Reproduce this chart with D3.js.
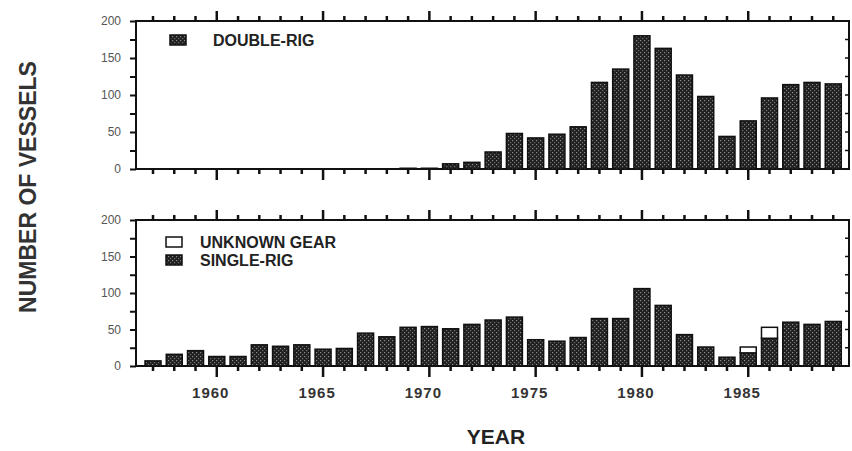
<!DOCTYPE html>
<html>
<head>
<meta charset="utf-8">
<script src="https://cdn.jsdelivr.net/npm/d3@7"></script>
<style>
  body { margin: 0; background: #fff; }
  svg { display: block; }
</style>
</head>
<body>
<div id="chart"></div>
<script>
// years on the x axis
const years = d3.range(1957, 1990);

// double-rig vessels, 1957-1989
const doubleRig = [0, 0, 0, 0, 0, 0, 0, 0, 0, 0, 0, 0, 1, 1, 7, 9,
  23, 48, 42, 47, 57, 117, 135, 180, 163, 127, 98, 44, 65, 96, 114, 117, 115];

// single-rig vessels, 1957-1989
const singleRig = [7, 16, 21, 13, 13, 29, 27, 29, 23, 24, 45, 40, 53, 54, 51, 57,
  63, 67, 36, 34, 39, 65, 65, 106, 83, 43, 26, 12, 18, 38, 60, 57, 61];

// unknown gear, stacked on single-rig
const unknownGear = [0, 0, 0, 0, 0, 0, 0, 0, 0, 0, 0, 0, 0, 0, 0, 0,
  0, 0, 0, 0, 0, 0, 0, 0, 0, 0, 0, 0, 8, 15, 0, 0, 0];

const yTicks = [0, 50, 100, 150, 200];
const yearLabels = [1960, 1965, 1970, 1975, 1980, 1985];

const width = 852;
const height = 451;
const left = 136, right = 849;

const x = d3.scaleLinear()
  .domain([1956.2, 1989.74])
  .range([left, right]);
const barW = 16;

const svg = d3.select("#chart").append("svg")
  .attr("width", width)
  .attr("height", height)
  .attr("viewBox", [0, 0, width, height]);

// dotted dark fill of the bars
const defs = svg.append("defs");
const pat = defs.append("pattern")
  .attr("id", "dots")
  .attr("patternUnits", "userSpaceOnUse")
  .attr("width", 4)
  .attr("height", 4);
pat.append("rect").attr("width", 4).attr("height", 4).attr("fill", "#202020");
pat.append("rect").attr("x", 0).attr("y", 0).attr("width", 1.2).attr("height", 1.2).attr("fill", "#8c8c8c");
pat.append("rect").attr("x", 2).attr("y", 2).attr("width", 1.2).attr("height", 1.2).attr("fill", "#6e6e6e");

const font = "'Liberation Sans', Arial, sans-serif";

function panel(top, bottom, showYears) {
  const y = d3.scaleLinear().domain([0, 200]).range([bottom, top]);
  const g = svg.append("g");

  // frame
  g.append("path")
    .attr("d", `M${left},${bottom}V${top}H${right}V${bottom}H${left}`)
    .attr("fill", "none")
    .attr("stroke", "#111")
    .attr("stroke-width", 2);

  // year ticks, below the baseline and above the top line
  years.forEach(yr => {
    const major = yr % 5 === 0;
    g.append("line")
      .attr("x1", x(yr)).attr("x2", x(yr))
      .attr("y1", bottom).attr("y2", bottom + (major ? 11 : 5))
      .attr("stroke", "#111").attr("stroke-width", 2.5);
    g.append("line")
      .attr("x1", x(yr)).attr("x2", x(yr))
      .attr("y1", top).attr("y2", top - (major ? 10 : 5))
      .attr("stroke", "#111").attr("stroke-width", 2.5);
  });

  // left axis
  const yAxis = d3.axisLeft(y)
    .tickValues(d3.range(0, 201, 25))
    .tickSize(6)
    .tickFormat(d => yTicks.includes(d) ? d : "");
  const ya = g.append("g")
    .attr("transform", `translate(${left},0)`)
    .call(yAxis);
  ya.select(".domain").remove();
  ya.selectAll("line").attr("stroke", "#111").attr("stroke-width", 2);
  ya.selectAll("text")
    .attr("x", -15)
    .attr("fill", "#555")
    .style("font-family", font)
    .style("font-size", "12px");

  // inward ticks on the right
  d3.range(25, 200, 25).forEach(v => {
    g.append("line")
      .attr("x1", right).attr("x2", right - 4)
      .attr("y1", y(v)).attr("y2", y(v))
      .attr("stroke", "#111").attr("stroke-width", 1.5);
  });

  if (showYears) {
    g.selectAll("text.yr")
      .data(yearLabels)
      .join("text")
      .attr("class", "yr")
      .attr("x", d => x(d) - 6)
      .attr("y", bottom + 32)
      .attr("text-anchor", "middle")
      .attr("fill", "#333")
      .style("font-family", font)
      .style("font-size", "15px")
      .style("font-weight", "bold")
      .style("letter-spacing", "1px")
      .text(d => d);
  }
  return { g, y };
}

// top panel: double-rig
const p1 = panel(21, 169, false);
p1.g.append("g")
  .selectAll("rect")
  .data(years.map((yr, i) => ({ yr, v: doubleRig[i] })).filter(d => d.v > 0))
  .join("rect")
  .attr("x", d => x(d.yr) - barW / 2)
  .attr("width", barW)
  .attr("y", d => p1.y(d.v))
  .attr("height", d => p1.y(0) - p1.y(d.v))
  .attr("fill", "url(#dots)")
  .attr("stroke", "#111")
  .attr("stroke-width", 1.5);

// bottom panel: single-rig with unknown gear on top
const p2 = panel(220, 366, true);
const stacked = d3.stack().keys(["single", "unknown"])(
  years.map((yr, i) => ({ yr, single: singleRig[i], unknown: unknownGear[i] }))
);
p2.g.append("g")
  .selectAll("g")
  .data(stacked)
  .join("g")
  .attr("fill", d => d.key === "single" ? "url(#dots)" : "#fff")
  .selectAll("rect")
  .data(d => d.filter(s => s[1] > s[0]))
  .join("rect")
  .attr("x", d => x(d.data.yr) - barW / 2)
  .attr("width", barW)
  .attr("y", d => p2.y(d[1]))
  .attr("height", d => p2.y(d[0]) - p2.y(d[1]))
  .attr("stroke", "#111")
  .attr("stroke-width", 1.5);

// legends
function legendItem(px, py, tx, fill, label) {
  svg.append("rect")
    .attr("x", px).attr("y", py - 5)
    .attr("width", 16).attr("height", 10)
    .attr("fill", fill)
    .attr("stroke", "#111")
    .attr("stroke-width", 1.5);
  svg.append("text")
    .attr("x", tx).attr("y", py)
    .attr("dy", "0.35em")
    .attr("fill", "#222")
    .style("font-family", font)
    .style("font-size", "16px")
    .style("font-weight", "bold")
    .text(label);
}
legendItem(170, 40, 213, "url(#dots)", "DOUBLE-RIG");
legendItem(166, 242, 200, "#fff", "UNKNOWN GEAR");
legendItem(166, 260, 200, "url(#dots)", "SINGLE-RIG");

// axis titles
svg.append("text")
  .attr("transform", "translate(36,187) rotate(-90)")
  .attr("text-anchor", "middle")
  .attr("fill", "#333")
  .style("font-family", font)
  .style("font-size", "23px")
  .style("font-weight", "bold")
  .text("NUMBER OF VESSELS");

svg.append("text")
  .attr("x", 496)
  .attr("y", 444)
  .attr("text-anchor", "middle")
  .attr("fill", "#222")
  .style("font-family", font)
  .style("font-size", "21px")
  .style("font-weight", "bold")
  .text("YEAR");
</script>
</body>
</html>
